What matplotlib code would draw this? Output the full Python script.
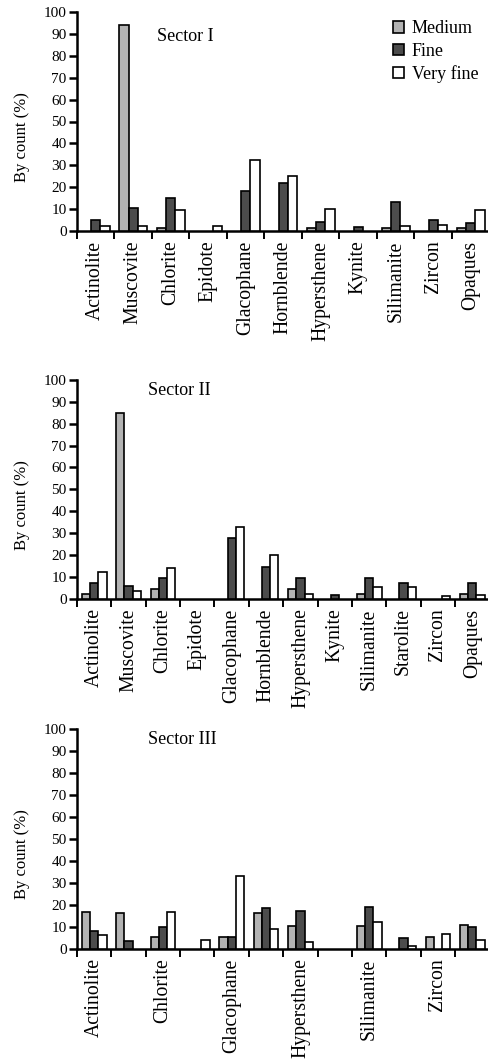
import matplotlib
matplotlib.use("Agg")
import matplotlib.pyplot as plt
import numpy as np

plt.rcParams['font.family'] = ['Liberation Serif', 'DejaVu Serif']

# heavy mineral categories
minerals_1 = ["Actinolite", "Muscovite", "Chlorite", "Epidote", "Glacophane",
              "Hornblende", "Hypersthene", "Kynite", "Silimanite", "Zircon", "Opaques"]
minerals_2 = ["Actinolite", "Muscovite", "Chlorite", "Epidote", "Glacophane",
              "Hornblende", "Hypersthene", "Kynite", "Silimanite", "Starolite",
              "Zircon", "Opaques"]
minerals_3 = minerals_2

# percentages by count for each grain size fraction
medium_1 = [0, 94, 1.4, 0, 0, 0, 1.4, 0, 1.4, 0, 1.4]
fine_1 = [5, 10.7, 15.1, 0, 18.3, 22, 4.3, 1.8, 13.1, 5, 3.7]
vfine_1 = [2.3, 2.3, 9.6, 2.3, 32.4, 25.2, 9.9, 0, 2.4, 2.6, 9.5]

medium_2 = [2.3, 84.8, 4.3, 0, 0, 0, 4.3, 0, 2.3, 0, 0, 2.3]
fine_2 = [7.2, 5.8, 9.5, 0, 27.9, 14.6, 9.5, 1.5, 9.5, 7.2, 0, 7.2]
vfine_2 = [12.3, 3.7, 14.2, 0, 32.9, 20, 2.3, 0, 5.5, 5.5, 1.4, 1.5]

medium_3 = [16.7, 16.2, 5.3, 0, 5.5, 16.4, 10.5, 0, 10.5, 0, 5.3, 10.9]
fine_3 = [8.2, 3.3, 10, 0, 5.2, 18.6, 17.3, 0, 18.9, 4.8, 0, 10]
vfine_3 = [6.4, 0, 16.8, 4.1, 32.9, 8.9, 3.0, 0, 12.3, 1.4, 6.8, 4.1]

sectors = ["Sector I", "Sector II", "Sector III"]
sizes = ["Medium", "Fine", "Very fine"]
colors = ["#b3b3b3", "#4c4c4c", "#ffffff"]

W, H = 489, 1059
fig = plt.figure(figsize=(W / 100, H / 100), dpi=100)


def px_axes(left, top, right, bottom):
    return fig.add_axes([left / W, 1 - bottom / H, (right - left) / W, (bottom - top) / H])


axes = [px_axes(77, 12, 489.5, 231),
        px_axes(77, 380, 489.5, 598.7),
        px_axes(77, 729, 489.5, 948.7)]

data = [(minerals_1, medium_1, fine_1, vfine_1),
        (minerals_2, medium_2, fine_2, vfine_2),
        (minerals_3, medium_3, fine_3, vfine_3)]
bar_w = [0.25, 0.24, 0.24]
title_pos = [(0.194, 0.888), (0.173, 0.954), (0.173, 0.95)]

for i, (ax, (names, med, fin, vfin)) in enumerate(zip(axes, data)):
    n = len(names)
    x = np.arange(n) + 0.5
    w = bar_w[i]
    for j, (vals, c, lab) in enumerate(zip((med, fin, vfin), colors, sizes)):
        # empty fractions get no outline so they don't thicken the axis
        edges = ["black" if v > 0 else "none" for v in vals]
        ax.bar(x + (j - 1) * w, vals, width=w, color=c, edgecolor=edges,
               linewidth=1.2, label=lab, zorder=3)

    ax.set_xlim(0, n)
    ax.set_ylim(0, 100)
    ax.set_yticks(np.arange(0, 101, 10))
    ax.tick_params(axis="y", labelsize=11, length=6, width=1.8, pad=1.5, direction="out")

    # boundaries between mineral groups carry the tick marks
    ax.set_xticks(np.arange(n))
    ax.set_xticklabels([])
    ax.tick_params(axis="x", which="major", length=6, width=1.4, direction="out")
    if i == 2:
        ax.set_xticks(x[::2], minor=True)
        ax.set_xticklabels(names[::2], minor=True)
    else:
        ax.set_xticks(x, minor=True)
        ax.set_xticklabels(names, minor=True)
    ax.tick_params(axis="x", which="minor", length=0, pad=7, labelsize=14.2,
                   labelrotation=90)

    for s in ("top", "right"):
        ax.spines[s].set_visible(False)
    for s in ("left", "bottom"):
        ax.spines[s].set_linewidth(1.8)

    ax.set_ylabel("By count (%)", fontsize=12)
    ax.yaxis.set_label_coords(-0.114, 0.43)
    ax.text(title_pos[i][0], title_pos[i][1], sectors[i], transform=ax.transAxes,
            fontsize=13, ha="left", va="center")

leg = axes[0].legend(loc="upper right", bbox_to_anchor=(0.99, 0.995), frameon=False,
                     fontsize=13, handlelength=0.6, handleheight=0.6, handletextpad=0.4,
                     labelspacing=0.3, borderaxespad=0)
for h in leg.legend_handles:
    h.set_edgecolor("black")

fig.savefig("out.png", dpi=100)
